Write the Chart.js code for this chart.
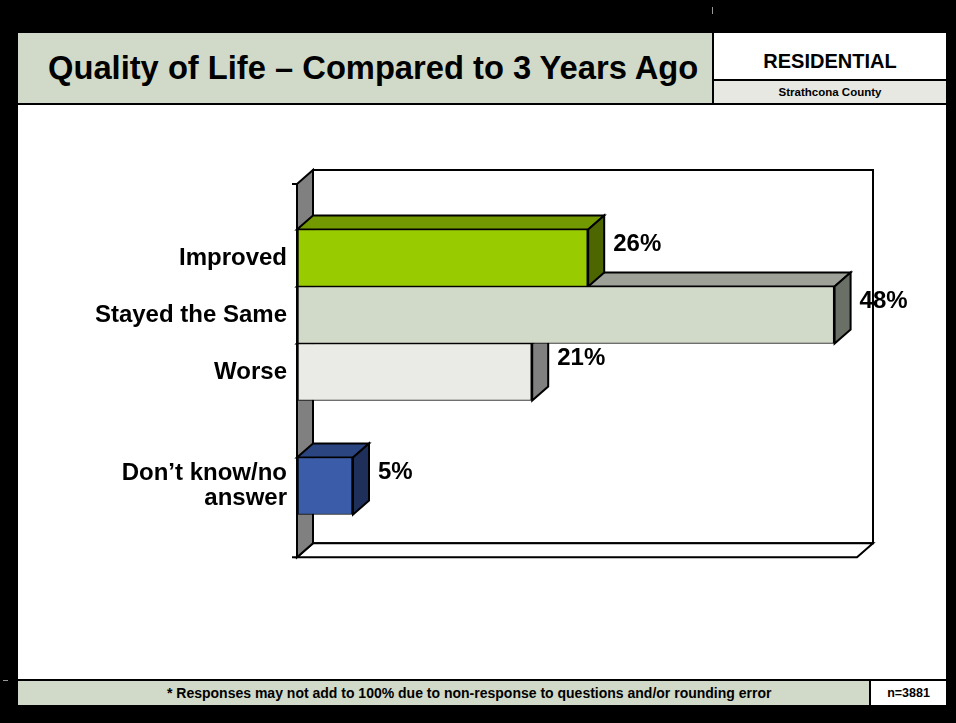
<!DOCTYPE html>
<html>
<head>
<meta charset="utf-8">
<title>Quality of Life – Compared to 3 Years Ago</title>
<script src="https://cdn.jsdelivr.net/npm/chart.js@4/dist/chart.umd.min.js"></script>
<style>
  html, body { margin: 0; padding: 0; background: #000; }
  body { width: 956px; height: 723px; position: relative; overflow: hidden;
         font-family: 'Liberation Sans', Arial, sans-serif; font-weight: bold; color: #000; }
  .abs { position: absolute; }
  #slide { left: 18px; top: 33px; width: 928px; height: 672px; background: #fff; }
  #titlebar { left: 18px; top: 33px; width: 694px; height: 70px; background: #d1d9c8; }
  #title { left: 48px; top: 33px; height: 70px; line-height: 70px; font-size: 32.7px; white-space: nowrap; }
  #res { left: 714px; top: 38px; width: 232px; height: 40px; line-height: 46px; text-align: center; font-size: 20px; }
  #county { left: 714px; top: 81px; width: 232px; height: 22px; line-height: 23px; text-align: center;
            font-size: 11.5px; background: #e8e8e3; }
  .line { background: #000; }
  #footer { left: 18px; top: 681px; width: 851px; height: 24px; background: #d1d9c8; }
  #note { left: 167px; top: 681px; width: 600px; height: 24px; line-height: 24px; text-align: center; font-size: 14px; white-space: nowrap; }
  #nbox { left: 871px; top: 681px; width: 75px; height: 24px; line-height: 24px; text-align: center; font-size: 12.5px; background: #fff; }
  #chart { left: 0; top: 0; }
</style>
</head>
<body>
<div class="abs" id="slide"></div>
<div class="abs" id="titlebar"></div>
<div class="abs" id="title">Quality of Life – Compared to 3 Years Ago</div>
<div class="abs line" style="left:712px;top:33px;width:2px;height:72px"></div>
<div class="abs" id="res">RESIDENTIAL</div>
<div class="abs line" style="left:714px;top:79px;width:232px;height:2px"></div>
<div class="abs" id="county">Strathcona County</div>
<div class="abs line" style="left:18px;top:103px;width:928px;height:2px"></div>
<div class="abs" style="left:712px;top:7px;width:1px;height:7px;background:#999"></div>

<div class="abs line" style="left:18px;top:679px;width:928px;height:2px"></div>
<div class="abs" id="footer"></div>
<div class="abs" id="note">* Responses may not add to 100% due to non-response to questions and/or rounding error</div>
<div class="abs line" style="left:869px;top:681px;width:2px;height:24px"></div>
<div class="abs" id="nbox">n=3881</div>
<div class="abs" style="left:3px;top:680px;width:5px;height:1px;background:#999"></div>

<canvas class="abs" id="chart" width="956" height="723"></canvas>

<script>
// ---- data ----------------------------------------------------------------
var CATEGORIES = ['Improved', 'Stayed the Same', 'Worse', '', ['Don\u2019t know/no', 'answer']];
var VALUES = [26, 48, 21, null, 5];
var AXIS_MAX = 50;

// ---- look ----------------------------------------------------------------
var FRONT = ['#99cc00', '#d1d9c8', '#eaeae6', '#ffffff', '#3a5ca9'];
var TOP   = ['#739900', '#9da197', '#afafac', '#ffffff', '#2b4580'];
var SIDE  = ['#4d6600', '#6b7066', '#808080', '#ffffff', '#1e2f5a'];
var DX = 16, DY = 14;                 // 3-D depth offset
var FONT = "'Liberation Sans', Arial, sans-serif";

function poly(ctx, pts, fill) {
  ctx.beginPath();
  ctx.moveTo(pts[0][0], pts[0][1]);
  for (var i = 1; i < pts.length; i++) ctx.lineTo(pts[i][0], pts[i][1]);
  ctx.closePath();
  ctx.fillStyle = fill;
  ctx.fill();
  ctx.stroke();
}

// walls, floor and the top/side faces of every bar (fronts are drawn by Chart.js)
var box3d = {
  id: 'box3d',
  beforeDatasetsDraw: function (chart) {
    var ctx = chart.ctx, x = chart.scales.x, y = chart.scales.y;
    var left = x.getPixelForValue(0), right = x.getPixelForValue(AXIS_MAX);
    var top = y.getPixelForValue(-1.3), bottom = y.getPixelForValue(CATEGORIES.length - 1 + 1.25);
    ctx.save();
    ctx.lineWidth = 2;
    ctx.strokeStyle = '#000';
    ctx.lineJoin = 'miter';

    // back wall
    poly(ctx, [[left + DX, top - DY], [right + DX, top - DY], [right + DX, bottom - DY], [left + DX, bottom - DY]], '#fff');
    // floor
    poly(ctx, [[left, bottom], [left + DX, bottom - DY], [right + DX, bottom - DY], [right, bottom]], '#fff');
    // left wall
    poly(ctx, [[left, top], [left + DX, top - DY], [left + DX, bottom - DY], [left, bottom]], '#808080');
    // tick marks
    ctx.beginPath();
    ctx.moveTo(left - 5, top); ctx.lineTo(left, top);
    ctx.moveTo(left - 5, bottom); ctx.lineTo(left, bottom);
    ctx.stroke();

    var meta = chart.getDatasetMeta(0);
    for (var i = VALUES.length - 1; i >= 0; i--) {
      if (VALUES[i] == null) continue;
      var p = meta.data[i].getProps(['x', 'y', 'base', 'height'], true);
      var t = p.y - p.height / 2, b = p.y + p.height / 2;
      poly(ctx, [[p.base, t], [p.base + DX, t - DY], [p.x + DX, t - DY], [p.x, t]], TOP[i]);
      poly(ctx, [[p.x, t], [p.x + DX, t - DY], [p.x + DX, b - DY], [p.x, b]], SIDE[i]);
    }
    ctx.restore();
  },
  afterDatasetsDraw: function (chart) {
    var ctx = chart.ctx;
    var meta = chart.getDatasetMeta(0);
    ctx.save();
    ctx.font = 'bold 24px ' + FONT;
    ctx.fillStyle = '#000';
    ctx.textAlign = 'left';
    ctx.textBaseline = 'middle';
    VALUES.forEach(function (v, i) {
      if (v == null) return;
      var el = meta.data[i];
      ctx.fillText(v + '%', el.x + DX + 9, el.y - 14);
    });
    ctx.restore();
  }
};

new Chart(document.getElementById('chart').getContext('2d'), {
  type: 'bar',
  data: {
    labels: CATEGORIES,
    datasets: [{
      data: VALUES,
      backgroundColor: FRONT,
      borderColor: '#000',
      borderWidth: { top: 1, bottom: 1, left: 2, right: 2 },
      borderSkipped: false,
      categoryPercentage: 1,
      barPercentage: 1,
      clip: false
    }]
  },
  options: {
    indexAxis: 'y',
    responsive: false,
    animation: false,
    layout: { padding: { left: 96, right: 99, top: 258, bottom: 237 } },
    plugins: { legend: { display: false }, tooltip: { enabled: false } },
    scales: {
      x: { type: 'linear', min: 0, max: AXIS_MAX, display: false },
      y: {
        type: 'category',
        offset: false,
        grid: { display: false, drawTicks: false },
        border: { display: false },
        ticks: { autoSkip: false, padding: 10, color: '#000',
                 font: { family: FONT, size: 24, weight: 'bold', lineHeight: 1.05 } },
        afterFit: function (s) { s.width = 201; }
      }
    }
  },
  plugins: [box3d]
});
</script>
</body>
</html>
